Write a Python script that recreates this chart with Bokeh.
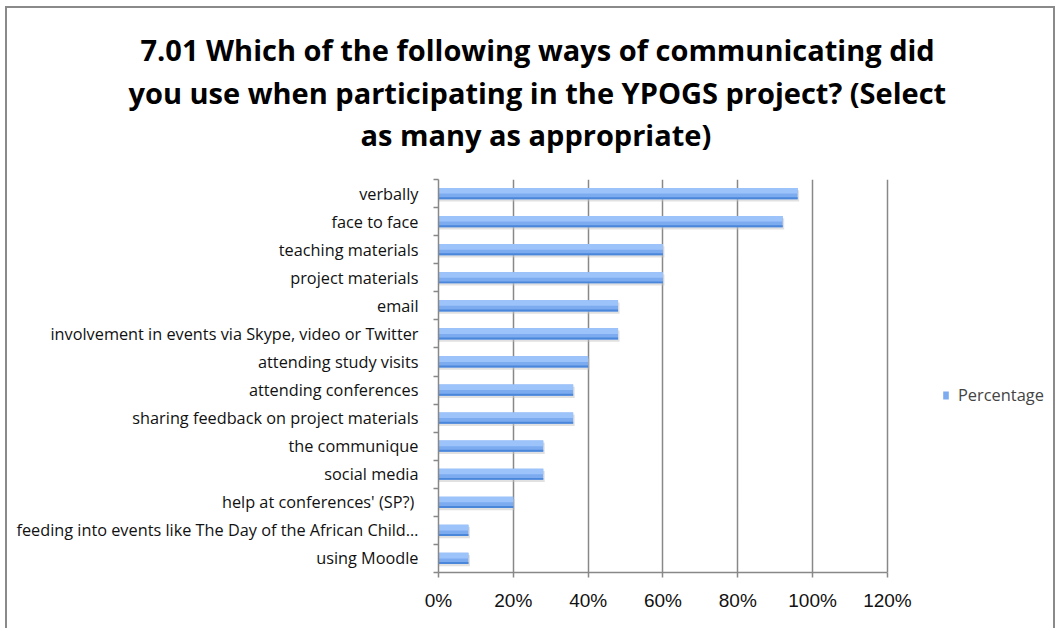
import numpy as np
from bokeh.plotting import figure
from bokeh.models import (ColumnDataSource, Range1d, FixedTicker, NumeralTickFormatter,
                          Title, Legend, LegendItem)
from bokeh.transform import dodge
from bokeh.embed import file_html
from bokeh.resources import INLINE

categories = [
    "verbally",
    "face to face",
    "teaching materials",
    "project materials",
    "email",
    "involvement in events via Skype, video or Twitter",
    "attending study visits",
    "attending conferences",
    "sharing feedback on project materials",
    "the communique",
    "social media",
    "help at conferences'  (SP?)",
    "feeding into events like The Day of the African Child\u2026",
    "using Moodle",
]
percentage = [0.96, 0.92, 0.60, 0.60, 0.48, 0.48, 0.40, 0.36, 0.36, 0.28, 0.28, 0.20, 0.08, 0.08]
x_ticks = [0.0, 0.2, 0.4, 0.6, 0.8, 1.0, 1.2]
series_name = "Percentage"
title_lines = [
    "7.01 Which of the following ways of communicating did",
    "you use when participating in the YPOGS project? (Select",
    "as many as appropriate)",
]
# horizontal placement (px from plot-area left) and extra gap above each title line
title_offsets = [-298, -310, -78]
title_standoffs = [2, 2, 0]

# layout (pixels)
W, H = 1050, 622
CW = W - 4              # canvas width inside the side borders
BL, BR, BT, BB = 431, 6, 171, 58
AXIS_PX = 446           # pixel width of the 0..120% axis
AXIS_MAX = x_ticks[-1]
frame_w = CW - BL - BR
x_end = AXIS_MAX * frame_w / AXIS_PX   # plot area extends past 120% to host the legend

n = len(categories)
pos = list(range(n))
src = ColumnDataSource(dict(y=pos, x=percentage, cat=categories))

p = figure(width=W, height=H, output_backend="svg", toolbar_location=None,
           x_range=Range1d(0, x_end), y_range=Range1d(n - 0.5, -0.5),
           min_border_left=BL, min_border_right=BR, min_border_top=BT, min_border_bottom=BB)
p.outline_line_color = None
p.background_fill_color = "white"
p.border_fill_color = "white"
p.styles = {"border-left": "2px solid #8a8a8a", "border-top": "2px solid #8a8a8a",
            "border-right": "2px solid #8a8a8a", "box-sizing": "border-box",
            "margin-left": "5px", "margin-top": "6px"}

# bars: shadow, base, highlight, dark bottom edge
BH = 0.40
p.hbar(y=dodge("y", 0.08, range=p.y_range), right=dodge("x", 0.004, range=p.x_range),
       left=0, height=BH, source=src, fill_color="#c4c4c4", fill_alpha=0.5, line_color=None)
base = p.hbar(y="y", right="x", left=0, height=BH, source=src,
              fill_color="#7dabf0", line_color=None)
p.hbar(y=dodge("y", -0.10, range=p.y_range), right="x", left=0, height=0.2, source=src,
       fill_color="#9dc3fb", line_color=None)
p.hbar(y=dodge("y", 0.165, range=p.y_range), right="x", left=0, height=0.07, source=src,
       fill_color="#4a86da", line_color=None)

# x axis
p.xaxis.bounds = (0, AXIS_MAX)
p.xaxis.ticker = FixedTicker(ticks=x_ticks)
p.xaxis.formatter = NumeralTickFormatter(format="0%")
p.xaxis.axis_line_color = "#888888"
p.xaxis.axis_line_width = 1.5
p.xaxis.major_tick_line_color = "#888888"
p.xaxis.major_tick_line_width = 1.5
p.xaxis.major_tick_out = 5
p.xaxis.major_tick_in = 0
p.xaxis.minor_tick_line_color = None
p.xaxis.major_label_text_font = "Liberation Sans"
p.xaxis.major_label_text_font_size = "19px"
p.xaxis.major_label_text_color = "#111111"
p.xaxis.major_label_standoff = 12

# y axis
centers = pos
bounds = [i - 0.5 for i in range(n + 1)]
p.yaxis.ticker = FixedTicker(ticks=centers, minor_ticks=bounds)
p.yaxis.major_label_overrides = {i: c for i, c in enumerate(categories)}
p.yaxis.axis_line_color = "#888888"
p.yaxis.axis_line_width = 1.5
p.yaxis.major_tick_line_color = None
p.yaxis.major_tick_out = 0
p.yaxis.major_tick_in = 0
p.yaxis.minor_tick_line_color = "#888888"
p.yaxis.minor_tick_line_width = 1.5
p.yaxis.minor_tick_out = 5
p.yaxis.minor_tick_in = 0
p.yaxis.major_label_text_font = "Open Sans"
p.yaxis.major_label_text_font_size = "16.3px"
p.yaxis.major_label_text_color = "#111111"
p.yaxis.major_label_standoff = 15

p.xgrid.ticker = FixedTicker(ticks=x_ticks)
p.xgrid.grid_line_color = "#888888"
p.xgrid.grid_line_width = 1.5
p.ygrid.grid_line_color = None

# title (first added sits nearest the plot area); a blank spacer first
p.add_layout(Title(text=" ", text_font="Open Sans", text_font_size="10.5px", standoff=10), "above")
for line, off, so in reversed(list(zip(title_lines, title_offsets, title_standoffs))):
    p.add_layout(Title(text=line, align="left", text_font="Open Sans", text_font_style="bold",
                       text_font_size="29px", text_color="#000000", offset=off,
                       standoff=so), "above")

legend = Legend(items=[LegendItem(label=series_name, renderers=[base])],
                location=(504, 166), border_line_color=None, background_fill_alpha=0,
                label_text_font="Open Sans", label_text_font_size="16.4px",
                glyph_width=7, glyph_height=10, label_standoff=9, padding=0, margin=0)
p.add_layout(legend, "center")

open("out.html", "w").write(file_html(p, INLINE))
